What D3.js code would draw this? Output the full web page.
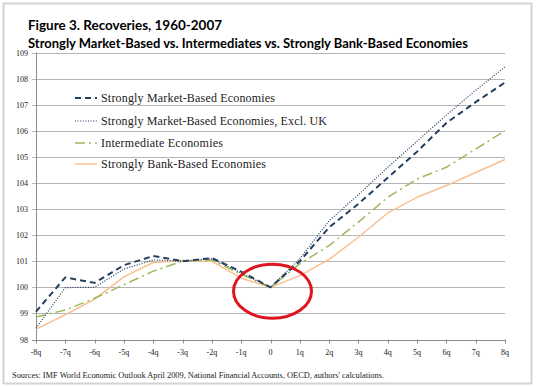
<!DOCTYPE html>
<html>
<head>
<meta charset="utf-8">
<script src="https://cdn.jsdelivr.net/npm/d3@7"></script>
<style>
  body { margin: 0; background: #fff; }
  svg { display: block; }
  .serif { font-family: "Liberation Serif", "Times New Roman", Tinos, serif; }
  .sans-bold { font-family: Lato, "Open Sans", sans-serif; font-weight: bold; }
</style>
</head>
<body>
<div id="chart"></div>
<script>
let quarters = ["-8q","-7q","-6q","-5q","-4q","-3q","-2q","-1q","0","1q","2q","3q","4q","5q","6q","7q","8q"];

let marketBased     = [99.07, 100.38, 100.17, 100.85, 101.2, 101.0, 101.12, 100.6, 100, 101.0, 102.3, 103.2, 104.2, 105.2, 106.3, 107.1, 107.85];
let marketExclUK    = [98.43, 99.99, 100.0, 100.7, 101.05, 101.0, 101.1, 100.55, 100, 101.1, 102.55, 103.55, 104.6, 105.6, 106.6, 107.55, 108.45];
let intermediate    = [98.86, 99.13, 99.58, 100.1, 100.62, 101.0, 101.05, 100.5, 100, 100.9, 101.6, 102.5, 103.45, 104.15, 104.6, 105.3, 106.0];
let bankBased       = [98.4, 98.95, 99.55, 100.4, 100.95, 101.03, 101.0, 100.35, 100, 100.45, 101.07, 101.92, 102.85, 103.45, 103.9, 104.4, 104.9];

let seriesNames = [
  "Strongly Market-Based Economies",
  "Strongly Market-Based Economies, Excl. UK",
  "Intermediate Economies",
  "Strongly Bank-Based Economies"
];
let yTicks = [98, 99, 100, 101, 102, 103, 104, 105, 106, 107, 108, 109];

let width = 538, height = 387;

let svg = d3.select("#chart")
  .append("svg")
    .attr("width", width)
    .attr("height", height);

// outer frame
svg.append("rect")
    .attr("x", 3.5).attr("y", 3.5)
    .attr("width", 528).attr("height", 380)
    .attr("fill", "none")
    .attr("stroke", "#d4d4d4")
    .attr("stroke-width", 2);

svg.append("text")
    .attr("class", "sans-bold")
    .attr("x", 28).attr("y", 30)
    .style("font-size", "13px")
    .attr("textLength", 194)
    .attr("lengthAdjust", "spacingAndGlyphs")
    .attr("fill", "#000")
    .text("Figure 3. Recoveries, 1960-2007");

svg.append("text")
    .attr("class", "sans-bold")
    .attr("x", 28).attr("y", 48)
    .style("font-size", "13px")
    .attr("textLength", 440)
    .attr("lengthAdjust", "spacingAndGlyphs")
    .attr("fill", "#000")
    .text("Strongly Market-Based vs. Intermediates vs. Strongly Bank-Based Economies");

let x = d3.scalePoint()
    .domain(quarters)
    .range([36, 505]);

let y = d3.scaleLinear()
    .domain([98, 109])
    .range([339.5, 52.5]);

// gridlines
svg.append("g")
  .selectAll("line")
  .data(yTicks)
  .enter()
  .append("line")
    .attr("x1", 32).attr("x2", 505)
    .attr("y1", d => Math.round(y(d)) + 0.5)
    .attr("y2", d => Math.round(y(d)) + 0.5)
    .attr("stroke", d => d === 98 ? "#8c8c8c" : "#b5b5b5")
    .attr("stroke-width", 1);

// y axis line
svg.append("line")
    .attr("x1", 36.5).attr("x2", 36.5)
    .attr("y1", y(109)).attr("y2", y(98))
    .attr("stroke", "#8c8c8c");

// y labels
svg.append("g")
  .selectAll("text")
  .data(yTicks)
  .enter()
  .append("text")
    .attr("class", "serif")
    .attr("x", 28)
    .attr("y", d => y(d) + 3)
    .attr("text-anchor", "end")
    .style("font-size", "8px")
    .attr("fill", "#222")
    .text(d => d);

// x ticks
svg.append("g")
  .selectAll("line")
  .data(quarters)
  .enter()
  .append("line")
    .attr("x1", d => Math.round(x(d)) + 0.5)
    .attr("x2", d => Math.round(x(d)) + 0.5)
    .attr("y1", y(98)).attr("y2", y(98) + 4)
    .attr("stroke", "#8c8c8c");

svg.append("g")
  .selectAll("text")
  .data(quarters)
  .enter()
  .append("text")
    .attr("class", "serif")
    .attr("x", d => x(d))
    .attr("y", 355)
    .attr("text-anchor", "middle")
    .style("font-size", "8px")
    .attr("fill", "#222")
    .text(d => d);

let styles = [
  {values: marketBased,  color: "#243f60", width: 2,   dash: "6,4",      textW: 174},
  {values: marketExclUK, color: "#1f3a5f", width: 1.2, dash: "1,1.6",    textW: 226},
  {values: intermediate, color: "#9bbb59", width: 1.5, dash: "10,4,2,4", textW: 122},
  {values: bankBased,    color: "#fac090", width: 1.5, dash: null,       textW: 165}
];

let line = d3.line()
    .x((d, i) => x(quarters[i]))
    .y(d => y(d));

svg.append("g")
  .selectAll("path")
  .data(styles.slice().reverse())
  .enter()
  .append("path")
    .attr("d", d => line(d.values))
    .attr("fill", "none")
    .attr("stroke", d => d.color)
    .attr("stroke-width", d => d.width)
    .attr("stroke-dasharray", d => d.dash)
    .attr("stroke-linejoin", "round");

// legend
let legendY = [98, 121, 143, 164];
let legend = svg.append("g")
  .selectAll("g")
  .data(styles)
  .enter()
  .append("g")
    .attr("transform", (d, i) => "translate(75," + legendY[i] + ")");

legend.append("line")
    .attr("x1", 0).attr("x2", 22)
    .attr("y1", 0).attr("y2", 0)
    .attr("stroke", d => d.color)
    .attr("stroke-width", d => d.width)
    .attr("stroke-dasharray", d => d.dash);

legend.append("text")
    .attr("class", "serif")
    .attr("x", 26)
    .attr("y", 4)
    .style("font-size", "12px")
    .attr("textLength", d => d.textW)
    .attr("lengthAdjust", "spacing")
    .attr("fill", "#222")
    .text((d, i) => seriesNames[i]);

// red ellipse highlight
svg.append("ellipse")
    .attr("cx", x("0") + 2)
    .attr("cy", y(99.85))
    .attr("rx", 39)
    .attr("ry", 27)
    .attr("fill", "none")
    .attr("stroke", "#e0141e")
    .attr("stroke-width", 3);

svg.append("text")
    .attr("class", "serif")
    .attr("x", 12).attr("y", 378)
    .style("font-size", "8.4px")
    .attr("textLength", 372)
    .attr("lengthAdjust", "spacing")
    .attr("fill", "#222")
    .text("Sources:  IMF World Economic Outlook April 2009, National Financial Accounts, OECD, authors' calculations.");
</script>
</body>
</html>
